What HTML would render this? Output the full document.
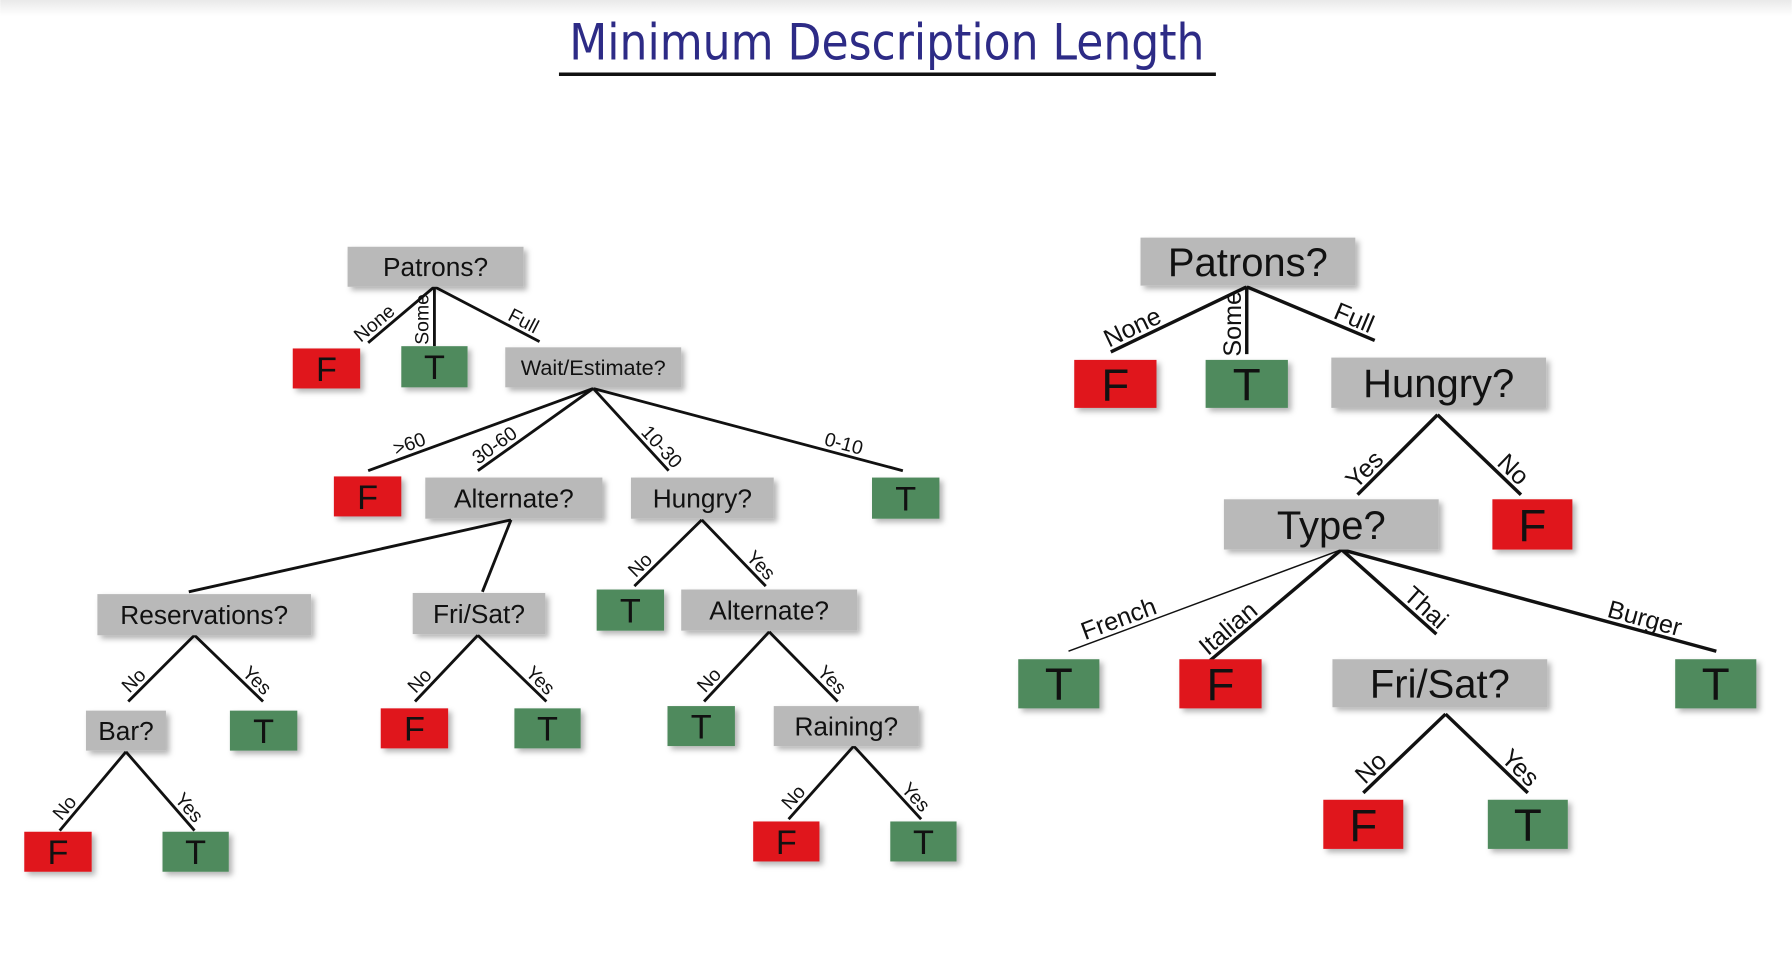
<!DOCTYPE html>
<html><head><meta charset="utf-8"><style>
html,body{margin:0;padding:0;background:#fff;}
svg{display:block;}
text{font-family:"Liberation Sans Narrow","Liberation Sans",sans-serif;fill:#111;}
</style></head><body>
<svg id="c" width="1792" height="954" viewBox="0 0 1568 835" xmlns="http://www.w3.org/2000/svg">
<defs>
<filter id="sh" x="-20%" y="-20%" width="150%" height="160%"><feDropShadow dx="3" dy="3" stdDeviation="2.5" flood-color="#000" flood-opacity="0.3"/></filter>
<linearGradient id="tg" x1="0" y1="0" x2="0" y2="1"><stop offset="0" stop-color="#e9e9e9"/><stop offset="1" stop-color="#fff"/></linearGradient>
</defs>
<rect x="0" y="0" width="1568" height="14" fill="url(#tg)"/>
<text x="498" y="52" font-size="44" style="font-family:'DejaVu Sans Condensed','Liberation Sans Narrow',sans-serif;fill:#2d2b86" textLength="556" lengthAdjust="spacingAndGlyphs">Minimum Description Length</text>
<line x1="489" y1="65" x2="1064" y2="65" stroke="#111" stroke-width="3"/>
<g id="g"></g>
</svg>
<script>
// nodes: [name, x0, y0, x1, y1, kind(q/F/T), label, fontSize]
const nodeNames=["l-patrons","l-f1","l-t1","l-wait","l-f2","l-alt","l-hungry","l-t2","l-res","l-frisat","l-t3","l-alt2","l-bar","l-t4","l-f3","l-t5","l-t6","l-raining","l-f4","l-t7","l-f5","l-t8",
"r-patrons","r-f1","r-t1","r-hungry","r-type","r-f2","r-t2","r-f3","r-frisat","r-t3","r-f4","r-t4"];
const nodeBoxes=[[304,216,458,251,"q","Patrons?",23],[256,305,315,340,"F","F",30],[351,303,409,339,"T","T",30],[442,304,596,339,"q","Wait/Estimate?",19],
[292,417,351,452,"F","F",30],[372,418,527,454,"q","Alternate?",23],[552,418,677,454,"q","Hungry?",23],[763,418,822,454,"T","T",30],
[85,520,272,556,"q","Reservations?",23],[361,519,477,555,"q","Fri/Sat?",23],[522,516,581,552,"T","T",30],[596,516,750,552,"q","Alternate?",23],
[75,622,145,657,"q","Bar?",23],[201,622,260,657,"T","T",30],[333,620,392,655,"F","F",30],[450,620,508,655,"T","T",30],
[584,618,643,653,"T","T",30],[677,618,804,653,"q","Raining?",23],[21,728,80,763,"F","F",30],[142,728,200,763,"T","T",30],[659,719,717,754,"F","F",30],[779,719,837,754,"T","T",30],
[998,208,1186,250,"q","Patrons?",35],[940,315,1012,357,"F","F",40],[1055,315,1127,357,"T","T",40],[1165,313,1353,357,"q","Hungry?",35],
[1071,437,1259,481,"q","Type?",35],[1306,437,1376,481,"F","F",40],[891,577,962,620,"T","T",40],[1032,577,1104,620,"F","F",40],
[1166,577,1354,619,"q","Fri/Sat?",35],[1466,577,1537,620,"T","T",40],[1158,700,1228,743,"F","F",40],[1302,700,1372,743,"T","T",40]];
// edges: [x0,y0,x1,y1,label,fontSize,width]
const edgeLines=[[380,251,322,300,"None",17,2.5],[380,251,380,303,"Some",17,2.5],[380,251,472,299,"Full",17,2.5],
[519,340,322,412,">60",17,2.5],[519,340,418,412,"30-60",17,2.5],[519,340,585,412,"10-30",17,2.5],[519,340,790,412,"0-10",17,2.5],
[447,455,165,518,"",17,2.5],[447,455,422,518,"",17,2.5],[614,455,555,513,"No",17,2.5],[614,455,670,513,"Yes",17,2.5],
[170,556,112,614,"No",17,2.5],[170,556,230,614,"Yes",17,2.5],[418,556,363,614,"No",17,2.5],[418,556,478,614,"Yes",17,2.5],
[673,553,616,614,"No",17,2.5],[673,553,733,614,"Yes",17,2.5],[110,658,52,727,"No",17,2.5],[110,658,170,727,"Yes",17,2.5],
[747,653,690,717,"No",17,2.5],[747,653,806,717,"Yes",17,2.5],
[1091,251,972,308,"None",22,3],[1091,251,1091,310,"Some",22,3],[1091,251,1203,298,"Full",22,3],
[1258,363,1188,433,"Yes",22,3],[1258,363,1331,433,"No",22,3],
[1174,481,935,570,"French",22,1.3],[1174,481,1059,578,"Italian",22,3],[1174,481,1257,555,"Thai",22,3],[1174,481,1502,570,"Burger",22,3],
[1265,625,1193,694,"No",22,3],[1265,625,1337,694,"Yes",22,3]];
const NS="http://www.w3.org/2000/svg";
const g=document.getElementById('g');
const fills={q:"#b9b9b9",F:"#e0141e",T:"#4f8a5d"};
edgeLines.forEach((e,i)=>{
  const [x0,y0,x1,y1,lab,fs,w]=e;
  const l=document.createElementNS(NS,'line');
  l.setAttribute('x1',x0);l.setAttribute('y1',y0);l.setAttribute('x2',x1);l.setAttribute('y2',y1);
  l.setAttribute('stroke','#111');l.setAttribute('stroke-width',w);
  
  
  g.appendChild(l);
  if(!lab) return;
  const t=document.createElementNS(NS,'text');
  let dx=x1-x0,dy=y1-y0;
  let ang, px, py;
  if(Math.abs(dx)<1){ang=-90;px=x0-3;py=y0+(y1-y0)*0.55;}
  else{
    if(dx<0){ang=Math.atan2(-dy,-dx)*180/Math.PI;}else{ang=Math.atan2(dy,dx)*180/Math.PI;}
    const f=0.8;px=x0+dx*f;py=y0+dy*f;
    const a=ang*Math.PI/180;px+=Math.sin(a)*2;py-=Math.cos(a)*2;
  }
  t.setAttribute('x',0);t.setAttribute('y',-2);
  t.setAttribute('font-size',fs);t.setAttribute('text-anchor','middle');
  t.setAttribute('transform',`translate(${px},${py}) rotate(${ang})`);
  t.textContent=lab;
  
  
  g.appendChild(t);
});
nodeBoxes.forEach((n,i)=>{
  const [x0,y0,x1,y1,k,lab,fs]=n;
  const r=document.createElementNS(NS,'rect');
  r.setAttribute('x',x0);r.setAttribute('y',y0);r.setAttribute('width',x1-x0);r.setAttribute('height',y1-y0);
  r.setAttribute('fill',fills[k]);r.setAttribute('filter','url(#sh)');
  
  
  g.appendChild(r);
  const t=document.createElementNS(NS,'text');
  t.setAttribute('x',(x0+x1)/2);t.setAttribute('y',(y0+y1)/2+fs*0.36);
  t.setAttribute('font-size',fs);t.setAttribute('text-anchor','middle');
  t.textContent=lab;
  
  
  g.appendChild(t);
});
</script>
</body></html>
